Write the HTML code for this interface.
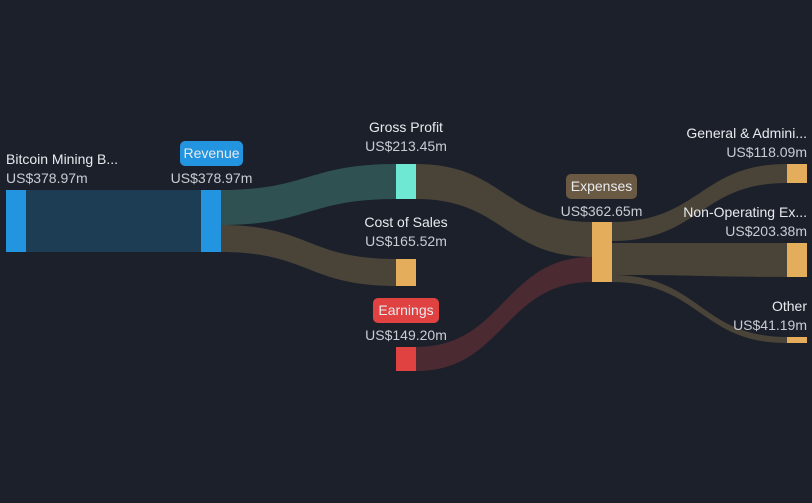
<!DOCTYPE html>
<html><head><style>
body{margin:0;background:#1b202b;width:812px;height:503px;overflow:hidden;font-family:"Liberation Sans",sans-serif}
svg{display:block}
text{font-family:"Liberation Sans",sans-serif;font-size:14px;fill:#e8eaee}
.v{fill:#c8ccd3}
</style></head><body>
<svg width="812" height="503" viewBox="0 0 812 503">
<rect width="812" height="503" fill="#1b202b"/>
<rect x="26" y="190" width="176" height="62" fill="#1d3d55"/>
<path d="M221 190 C308 190 308 164 396 164 L396 199 C308 199 308 225 221 225Z" fill="#2f5152"/>
<path d="M221 225 C308 225 308 259 396 259 L396 286 C308 286 308 252 221 252Z" fill="#4a4337"/>
<path d="M416 164 C504 164 504 222 592 222 L592 257 C504 257 504 199 416 199Z" fill="#4a4337"/>
<path d="M416 347 C504 347 504 257 592 257 L592 282 C504 282 504 371 416 371Z" fill="#4b2a31"/>
<path d="M612 222 C700 222 700 164 787 164 L787 183 C700 183 700 241 612 241Z" fill="#4a4337"/>
<path d="M612 243 C700 243 700 243 787 243 L787 277 C700 277 700 275 612 275Z" fill="#4a4337"/>
<path d="M612 275 C700 275 700 337 787 337 L787 343 C700 343 700 282 612 282Z" fill="#4a4337"/>
<rect x="6" y="190" width="20" height="62" fill="#2394df"/>
<rect x="201" y="190" width="20" height="62" fill="#2394df"/>
<rect x="396" y="164" width="20" height="35" fill="#6ee7d3"/>
<rect x="396" y="259" width="20" height="27" fill="#e3ad5b"/>
<rect x="396" y="347" width="20" height="24" fill="#e04242"/>
<rect x="592" y="222" width="20" height="60" fill="#e3ad5b"/>
<rect x="787" y="164" width="20" height="19" fill="#e3ad5b"/>
<rect x="787" y="243" width="20" height="34" fill="#e3ad5b"/>
<rect x="787" y="337" width="20" height="6" fill="#e3ad5b"/>
<text x="6" y="164">Bitcoin Mining B...</text>
<text x="6" y="183" class="v">US$378.97m</text>
<rect x="180" y="141" width="63" height="25" rx="5" fill="#2394df"/>
<text x="211.5" y="158" text-anchor="middle" fill="#fff">Revenue</text>
<text x="211.5" y="183" text-anchor="middle" class="v">US$378.97m</text>
<text x="406" y="132" text-anchor="middle">Gross Profit</text>
<text x="406" y="151" text-anchor="middle" class="v">US$213.45m</text>
<text x="406" y="227" text-anchor="middle">Cost of Sales</text>
<text x="406" y="246" text-anchor="middle" class="v">US$165.52m</text>
<rect x="373" y="298" width="66" height="25" rx="5" fill="#e04242"/>
<text x="406" y="315" text-anchor="middle">Earnings</text>
<text x="406" y="340" text-anchor="middle" class="v">US$149.20m</text>
<rect x="566" y="174" width="71" height="25" rx="5" fill="#6b5a43"/>
<text x="601.5" y="191" text-anchor="middle">Expenses</text>
<text x="601.5" y="216" text-anchor="middle" class="v">US$362.65m</text>
<text x="807" y="138" text-anchor="end">General &amp; Admini...</text>
<text x="807" y="157" text-anchor="end" class="v">US$118.09m</text>
<text x="807" y="217" text-anchor="end">Non-Operating Ex...</text>
<text x="807" y="236" text-anchor="end" class="v">US$203.38m</text>
<text x="807" y="311" text-anchor="end">Other</text>
<text x="807" y="330" text-anchor="end" class="v">US$41.19m</text>
</svg>
</body></html>
